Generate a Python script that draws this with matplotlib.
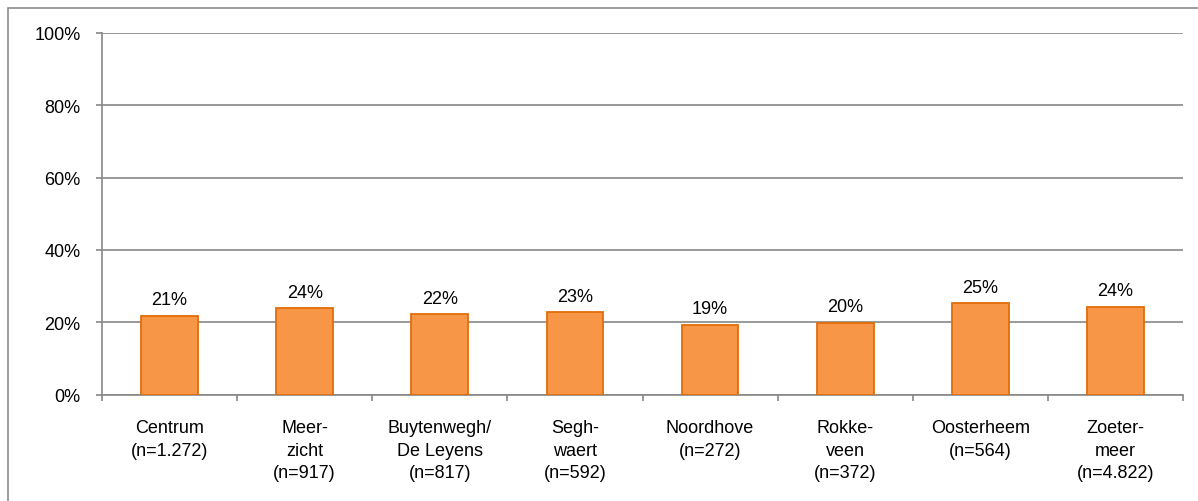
import matplotlib
matplotlib.use("Agg")
import matplotlib.pyplot as plt
from matplotlib.patches import Rectangle
import numpy as np

categories = ["Centrum\n(n=1.272)", "Meer-\nzicht\n(n=917)", "Buytenwegh/\nDe Leyens\n(n=817)",
              "Segh-\nwaert\n(n=592)", "Noordhove\n(n=272)", "Rokke-\nveen\n(n=372)",
              "Oosterheem\n(n=564)", "Zoeter-\nmeer\n(n=4.822)"]
values = [21.7, 23.8, 22.2, 22.7, 19.2, 19.8, 25.2, 24.2]
value_labels = ["21%", "24%", "22%", "23%", "19%", "20%", "25%", "24%"]
yticks = [0, 20, 40, 60, 80, 100]
ytick_labels = ["0%", "20%", "40%", "60%", "80%", "100%"]

plt.rcParams['font.family'] = ['Liberation Sans', 'DejaVu Sans']
FS = 13

fig = plt.figure(figsize=(11.98, 5.02), dpi=100)
ax = fig.add_axes([102/1198, 106.5/502, 1081/1198, 361.5/502])

grid_c = "#878787"
x = np.arange(len(categories))
ax.bar(x, values, width=0.42, color="#F79646", edgecolor="#E36C09", linewidth=1.3, zorder=3)

for xi, v, lab in zip(x, values, value_labels):
    ax.annotate(lab, (xi, v), xytext=(0, 8.4), textcoords="offset points",
                ha="center", va="baseline", fontsize=FS, color="black")

ax.set_xlim(-0.5, len(categories) - 0.5)
ax.set_ylim(0, 100)
ax.set_yticks(yticks)
ax.set_yticklabels(ytick_labels, fontsize=FS)
ax.set_xticks(x)
ax.set_xticklabels(categories, fontsize=FS, linespacing=1.4)
ax.set_xticks(np.arange(-0.5, len(categories)), minor=True)
ax.tick_params(axis="x", which="major", length=0, pad=18)
ax.tick_params(axis="x", which="minor", length=4.5, width=1.2, color=grid_c)
ax.tick_params(axis="y", length=4.5, width=1.2, color=grid_c, pad=11)

ax.yaxis.grid(True, color=grid_c, linewidth=1.2, zorder=0)
ax.set_axisbelow(True)
for s in ["top", "right"]:
    ax.spines[s].set_visible(False)
for s in ["left", "bottom"]:
    ax.spines[s].set_color(grid_c)
    ax.spines[s].set_linewidth(1.2)

border = Rectangle((7.5/1198, -0.05), 1.1, (502 - 9)/502 + 0.05, transform=fig.transFigure,
                   fill=False, edgecolor="#8c8c8c", linewidth=1.2, clip_on=False)
fig.patches.append(border)

fig.savefig("out.png", dpi=100)
